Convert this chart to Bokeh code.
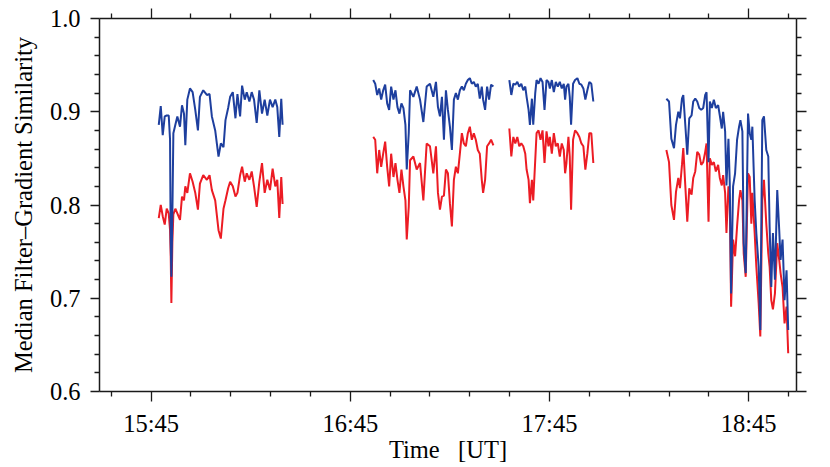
from bokeh.plotting import figure
from bokeh.models import LinearAxis, FixedTicker, Range1d, CustomJSTickFormatter, PrintfTickFormatter
from bokeh.embed import file_html
from bokeh.resources import INLINE

# Time in minutes after 15:00 UT; values: median filter-gradient similarity
seg1_t = [47.3, 47.9, 48.5, 49.1, 49.7, 50.3, 50.7, 50.9, 51.1, 51.4, 51.7, 52.3, 52.9, 53.7, 54.3,
          54.9, 55.3, 55.9, 56.7, 57.5, 58.3, 59.1, 59.7, 60.7, 61.8, 62.6, 63.3, 64.3, 65.3, 66.0,
          66.8, 67.4, 68.2, 68.8, 69.6, 70.4, 71.0, 71.8, 72.4, 73.2, 73.8, 74.6, 75.3, 76.0, 76.8,
          77.6, 78.4, 79.2, 80.0, 80.8, 81.6, 82.4, 83.0, 83.6, 84.2, 84.6]
seg1_blue = [0.886, 0.906, 0.875, 0.895, 0.896, 0.896, 0.870, 0.760, 0.723, 0.790, 0.877, 0.886, 0.895, 0.884, 0.907,
             0.898, 0.864, 0.913, 0.925, 0.921, 0.902, 0.880, 0.916, 0.923, 0.918, 0.919, 0.895, 0.880, 0.852, 0.866,
             0.862, 0.891, 0.904, 0.916, 0.921, 0.893, 0.919, 0.895, 0.928, 0.913, 0.921, 0.911, 0.921, 0.913, 0.888,
             0.923, 0.898, 0.913, 0.896, 0.913, 0.905, 0.913, 0.905, 0.873, 0.914, 0.886]
seg1_red = [0.786, 0.800, 0.788, 0.779, 0.796, 0.791, 0.773, 0.745, 0.695, 0.760, 0.790, 0.796, 0.791, 0.784, 0.809,
            0.805, 0.820, 0.813, 0.834, 0.825, 0.813, 0.795, 0.823, 0.832, 0.827, 0.832, 0.816, 0.805, 0.773, 0.764,
            0.796, 0.805, 0.818, 0.825, 0.820, 0.809, 0.813, 0.832, 0.841, 0.825, 0.834, 0.827, 0.836, 0.820, 0.798,
            0.825, 0.845, 0.813, 0.827, 0.816, 0.839, 0.820, 0.827, 0.786, 0.830, 0.801]

seg2_t = [111.9, 112.5, 113.1, 113.7, 114.3, 114.9, 115.5, 116.1, 116.7, 117.3, 118.0, 118.6, 119.2, 119.8, 120.4,
          121.0, 121.6, 122.0, 122.6, 123.0, 124.0, 125.0, 126.0, 127.0, 128.0, 129.0, 130.0, 130.8, 131.4, 132.0,
          132.6, 133.2, 133.8, 134.4, 135.0, 135.6, 136.2, 136.8, 137.4, 138.0, 138.6, 139.2, 139.8, 140.4, 141.0,
          141.6, 142.2, 142.8, 143.4, 144.0, 144.6, 145.0, 145.6, 146.2, 146.8, 147.4, 148.1]
seg2_blue = [0.934, 0.930, 0.918, 0.925, 0.913, 0.923, 0.929, 0.909, 0.902, 0.927, 0.913, 0.923, 0.905, 0.898, 0.909,
             0.904, 0.886, 0.838, 0.877, 0.923, 0.916, 0.927, 0.913, 0.889, 0.927, 0.930, 0.916, 0.932, 0.905, 0.895,
             0.916, 0.870, 0.923, 0.902, 0.884, 0.859, 0.913, 0.920, 0.913, 0.923, 0.927, 0.923, 0.930, 0.934, 0.936,
             0.930, 0.932, 0.927, 0.930, 0.914, 0.927, 0.913, 0.902, 0.927, 0.913, 0.929, 0.927]
seg2_red = [0.873, 0.870, 0.834, 0.859, 0.841, 0.855, 0.868, 0.841, 0.820, 0.855, 0.830, 0.845, 0.827, 0.813, 0.838,
            0.820, 0.805, 0.763, 0.798, 0.848, 0.852, 0.838, 0.845, 0.805, 0.866, 0.863, 0.834, 0.863, 0.813, 0.795,
            0.809, 0.810, 0.838, 0.834, 0.802, 0.777, 0.827, 0.841, 0.834, 0.855, 0.877, 0.866, 0.863, 0.877, 0.884,
            0.870, 0.877, 0.870, 0.859, 0.855, 0.827, 0.813, 0.827, 0.863, 0.866, 0.870, 0.864]

seg3_t = [152.9, 153.5, 154.1, 154.7, 155.3, 155.9, 156.5, 157.1, 157.7, 158.1, 158.7, 159.1, 159.7, 160.1, 160.7,
          161.1, 161.7, 162.3, 162.9, 163.5, 164.1, 164.7, 165.1, 165.7, 166.3, 166.9, 167.5, 168.1, 168.7, 169.3,
          169.7, 170.1, 170.7, 171.1, 171.5, 172.1, 172.7, 173.4, 174.0, 174.6, 175.2, 175.8, 176.4, 177.0, 177.6,
          178.2]
seg3_blue = [0.934, 0.918, 0.930, 0.929, 0.932, 0.927, 0.930, 0.923, 0.927, 0.916, 0.902, 0.886, 0.914, 0.886, 0.920,
             0.934, 0.930, 0.936, 0.932, 0.902, 0.934, 0.932, 0.925, 0.934, 0.921, 0.932, 0.927, 0.932, 0.925, 0.930,
             0.913, 0.927, 0.930, 0.916, 0.886, 0.930, 0.934, 0.936, 0.930, 0.929, 0.925, 0.913, 0.923, 0.932, 0.930,
             0.911]
seg3_red = [0.882, 0.852, 0.873, 0.866, 0.873, 0.863, 0.866, 0.863, 0.855, 0.838, 0.827, 0.802, 0.827, 0.805, 0.848,
            0.877, 0.880, 0.870, 0.880, 0.845, 0.879, 0.863, 0.873, 0.855, 0.877, 0.863, 0.866, 0.852, 0.866, 0.859,
            0.834, 0.845, 0.873, 0.852, 0.795, 0.870, 0.880, 0.877, 0.873, 0.866, 0.863, 0.838, 0.855, 0.877, 0.877,
            0.845]

seg4_t = [200.2, 201.0, 201.7, 202.5, 203.1, 203.8, 204.3, 204.9, 205.3, 205.9, 206.5, 207.1, 207.8, 208.3, 208.9,
          209.5, 210.1, 210.7, 211.3, 211.9, 212.3, 212.9, 213.3, 213.9, 214.5, 215.1, 215.8, 216.3, 216.9, 217.3,
          217.9, 218.3, 218.9, 219.3, 219.7, 220.3, 220.9, 221.5, 222.1, 222.5, 223.1, 223.5, 224.1, 224.8, 225.3,
          225.8, 226.1, 226.8, 227.3, 228.0, 228.5, 229.1, 229.6, 230.3, 230.9, 231.3, 231.8, 232.3, 232.9, 233.6,
          234.2, 234.6, 235.2, 235.8, 236.4, 236.9]
seg4_blue = [0.914, 0.911, 0.871, 0.861, 0.886, 0.900, 0.893, 0.914, 0.918, 0.886, 0.854, 0.893, 0.896, 0.911, 0.914,
             0.911, 0.904, 0.902, 0.904, 0.918, 0.921, 0.846, 0.911, 0.904, 0.913, 0.904, 0.907, 0.896, 0.882, 0.900,
             0.879, 0.821, 0.871, 0.823, 0.705, 0.820, 0.834, 0.870, 0.884, 0.891, 0.879, 0.759, 0.727, 0.898, 0.877,
             0.870, 0.884, 0.805, 0.770, 0.734, 0.666, 0.891, 0.895, 0.859, 0.852, 0.777, 0.712, 0.770, 0.720, 0.816,
             0.773, 0.741, 0.763, 0.698, 0.730, 0.666]
seg4_red = [0.859, 0.846, 0.800, 0.784, 0.814, 0.829, 0.818, 0.843, 0.861, 0.821, 0.782, 0.818, 0.811, 0.829, 0.836,
            0.857, 0.854, 0.843, 0.846, 0.857, 0.866, 0.782, 0.850, 0.843, 0.846, 0.836, 0.843, 0.829, 0.821, 0.832,
            0.813, 0.770, 0.820, 0.805, 0.691, 0.763, 0.745, 0.777, 0.805, 0.816, 0.805, 0.748, 0.723, 0.834, 0.830,
            0.780, 0.813, 0.770, 0.734, 0.695, 0.659, 0.805, 0.827, 0.780, 0.748, 0.734, 0.698, 0.688, 0.705, 0.759,
            0.741, 0.727, 0.712, 0.673, 0.691, 0.641]

segments = [(seg1_t, seg1_blue, seg1_red), (seg2_t, seg2_blue, seg2_red),
            (seg3_t, seg3_blue, seg3_red), (seg4_t, seg4_blue, seg4_red)]

x_major = [45, 105, 165, 225]
x_minor = [33, 57, 69, 81, 93, 117, 129, 141, 153, 177, 189, 201, 213, 237]
x_labels = ["15:45", "16:45", "17:45", "18:45"]
y_major = [0.6, 0.7, 0.8, 0.9, 1.0]
y_minor = [0.62, 0.64, 0.66, 0.68, 0.72, 0.74, 0.76, 0.78, 0.82, 0.84, 0.86, 0.88, 0.92, 0.94, 0.96, 0.98]

BLUE = "#1e3f9e"
RED = "#ec1c24"
AX = "#1a1a1a"
FONT = "Liberation Serif"
FS = "24.5px"

p = figure(width=830, height=467, x_range=Range1d(29.45, 239.4), y_range=Range1d(0.6, 1.0),
           x_axis_type=None, y_axis_type=None, output_backend="svg", toolbar_location=None,
           min_border_left=99, min_border_right=34, min_border_top=18, min_border_bottom=76)
p.outline_line_color = None
p.background_fill_color = "white"
p.border_fill_color = "white"

for t, b, r in segments:
    p.line(t, r, line_color=RED, line_width=2)
for t, b, r in segments:
    p.line(t, b, line_color=BLUE, line_width=2)


def style(ax, major_out, minor_out):
    ax.axis_line_color = AX
    ax.axis_line_width = 1.5
    ax.major_tick_line_color = AX
    ax.major_tick_line_width = 1.3
    ax.minor_tick_line_color = AX
    ax.minor_tick_line_width = 1.3
    ax.major_tick_in = 0
    ax.major_tick_out = major_out
    ax.minor_tick_in = 0
    ax.minor_tick_out = minor_out
    ax.major_label_text_font = FONT
    ax.major_label_text_font_size = FS
    ax.major_label_text_color = "black"
    ax.axis_label_text_font = FONT
    ax.axis_label_text_font_size = FS
    ax.axis_label_text_font_style = "normal"
    ax.axis_label_text_color = "black"


empty = CustomJSTickFormatter(code="return ''")

bottom = LinearAxis(ticker=FixedTicker(ticks=x_major, minor_ticks=x_minor),
                    major_label_overrides=dict(zip(x_major, x_labels)),
                    axis_label="Time\u00a0\u00a0\u00a0[UT]")
style(bottom, 10, 5)
bottom.major_label_standoff = 8
bottom.axis_label_standoff = -4
p.add_layout(bottom, "below")

top = LinearAxis(ticker=FixedTicker(ticks=x_major, minor_ticks=x_minor), formatter=empty)
style(top, 10, 5)
top.major_label_standoff = 0
p.add_layout(top, "above")

left = LinearAxis(ticker=FixedTicker(ticks=y_major, minor_ticks=y_minor),
                  formatter=PrintfTickFormatter(format="%.1f"),
                  axis_label="Median Filter\u2013Gradient Similarity")
style(left, 9, 5)
left.major_label_standoff = 10
left.axis_label_standoff = 10
p.add_layout(left, "left")

right = LinearAxis(ticker=FixedTicker(ticks=y_major, minor_ticks=y_minor), formatter=empty)
style(right, 10, 5)
right.major_label_standoff = 0
p.add_layout(right, "right")

open("out.html", "w").write(file_html(p, INLINE))
